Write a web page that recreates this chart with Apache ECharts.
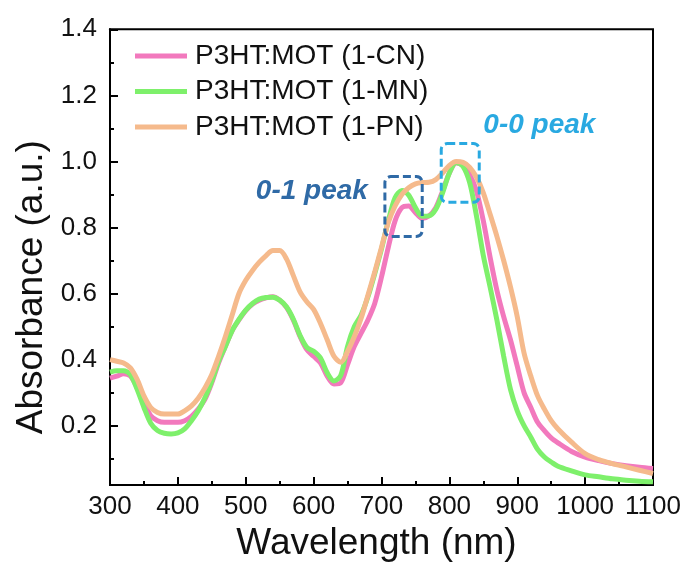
<!DOCTYPE html>
<html>
<head>
<meta charset="utf-8">
<script src="https://cdn.jsdelivr.net/npm/echarts@6/dist/echarts.min.js"></script>
<style>html,body{margin:0;padding:0;background:#fff;}#c{width:689px;height:567px;}</style>
</head>
<body>
<div id="c"></div>
<script>
// ---- data ----
var wavelengths = [300,310,320,330,340,350,360,370,380,390,400,410,420,430,440,450,460,470,480,490,500,510,520,530,540,550,560,570,580,590,600,610,620,630,640,650,660,670,680,690,700,710,720,730,740,750,760,770,780,790,800,810,820,830,840,850,860,870,880,890,900,910,920,930,940,950,960,980,1000,1020,1040,1060,1080,1100];
var absCN = [0.344,0.35,0.357,0.35,0.315,0.27,0.23,0.215,0.21,0.21,0.21,0.215,0.228,0.25,0.28,0.33,0.39,0.44,0.488,0.52,0.548,0.568,0.58,0.587,0.59,0.58,0.558,0.52,0.47,0.43,0.41,0.39,0.35,0.326,0.33,0.385,0.44,0.48,0.52,0.57,0.65,0.74,0.82,0.86,0.865,0.845,0.827,0.835,0.86,0.91,0.965,0.995,0.987,0.96,0.91,0.82,0.71,0.61,0.53,0.46,0.38,0.30,0.255,0.21,0.185,0.163,0.148,0.122,0.105,0.094,0.085,0.079,0.074,0.07];
var absMN = [0.362,0.366,0.366,0.355,0.31,0.255,0.207,0.185,0.177,0.175,0.178,0.19,0.215,0.245,0.285,0.335,0.395,0.44,0.488,0.522,0.55,0.57,0.583,0.588,0.589,0.58,0.56,0.523,0.473,0.437,0.425,0.405,0.36,0.335,0.352,0.44,0.50,0.535,0.59,0.66,0.735,0.82,0.89,0.912,0.898,0.86,0.834,0.835,0.855,0.905,0.965,0.997,0.985,0.935,0.834,0.715,0.62,0.52,0.41,0.31,0.245,0.2,0.165,0.128,0.105,0.09,0.077,0.063,0.051,0.045,0.039,0.035,0.032,0.03];
var absPN = [0.40,0.395,0.39,0.375,0.34,0.29,0.255,0.24,0.235,0.235,0.235,0.245,0.26,0.283,0.315,0.355,0.41,0.47,0.535,0.60,0.64,0.67,0.695,0.715,0.73,0.73,0.705,0.655,0.605,0.575,0.552,0.51,0.46,0.41,0.392,0.425,0.47,0.525,0.595,0.665,0.74,0.815,0.865,0.9,0.92,0.932,0.936,0.937,0.945,0.965,0.988,1.0,0.997,0.982,0.952,0.905,0.84,0.773,0.70,0.62,0.53,0.42,0.35,0.29,0.25,0.215,0.19,0.15,0.115,0.097,0.085,0.075,0.065,0.055];
var seriesNames = ['P3HT:MOT (1-CN)','P3HT:MOT (1-MN)','P3HT:MOT (1-PN)'];
var yTickValues = [0.2,0.4,0.6,0.8,1.0,1.2,1.4];
var yMinorValues = [0.1,0.3,0.5,0.7,0.9,1.1,1.3];
var peakBox01 = [705, 760, 0.773, 0.954]; // x0,x1,y0,y1 in data units
var peakBox00 = [788, 844, 0.876, 1.054];
var label01Pos = [680, 0.91];
var label00Pos = [850, 1.11];

function pairs(xs, ys){ return xs.map(function(x,i){ return [x, ys[i]]; }); }

var colors = ['#f279bd', '#7ef06b', '#f5ba8c'];
var FONT = '"Liberation Sans", Arial, sans-serif';

var chart = echarts.init(document.getElementById('c'), null, {renderer:'canvas'});
var option = {
  animation: false,
  backgroundColor: '#ffffff',
  grid: { left: 110, right: 36, top: 29.3, bottom: 80.3, show: true, borderColor: '#000', borderWidth: 2, containLabel: false },
  legend: {
    orient: 'vertical', left: 135, top: 42, padding: 0,
    icon: 'rect', itemWidth: 52, itemHeight: 5, itemGap: 7.5,
    data: seriesNames,
    textStyle: { fontFamily: FONT, fontSize: 28, color: '#111', lineHeight: 28, padding: [0,0,0,3] }
  },
  xAxis: {
    type: 'value', min: 300, max: 1100, interval: 100,
    name: 'Wavelength (nm)', nameLocation: 'middle', nameGap: 38,
    nameTextStyle: { fontFamily: FONT, fontSize: 37, color: '#111', padding: [0, 10, 0, 0] },
    axisLine: { show: true, lineStyle: { color: '#000', width: 2 } },
    axisTick: { show: true, inside: true, length: 8, lineStyle: { color: '#000', width: 2 } },
    minorTick: { show: true, splitNumber: 2, length: 4, lineStyle: { color: '#000', width: 2 } },
    axisLabel: { fontFamily: FONT, fontSize: 26, color: '#111', margin: 9, formatter: function(v){ return String(v); } },
    splitLine: { show: false }
  },
  yAxis: [{
    type: 'value', min: 0.02, max: 1.4,
    name: 'Absorbance (a.u.)', nameLocation: 'middle', nameGap: 47,
    nameTextStyle: { fontFamily: FONT, fontSize: 37, color: '#111', padding: [0, 60, 0, 0] },
    axisLine: { show: true, lineStyle: { color: '#000', width: 2 } },
    axisTick: { show: true, inside: true, length: 8, customValues: yTickValues, lineStyle: { color: '#000', width: 2 } },
    axisLabel: { fontFamily: FONT, fontSize: 26, color: '#111', margin: 13, customValues: yTickValues,
      formatter: function(v){ return v.toFixed(1); } },
    splitLine: { show: false }
  }, {
    type: 'value', min: 0.02, max: 1.4, position: 'left',
    axisLine: { show: false },
    axisTick: { show: true, inside: true, length: 4, customValues: yMinorValues, lineStyle: { color: '#000', width: 2 } },
    axisLabel: { show: false },
    splitLine: { show: false }
  }],
  series: [
    { name: seriesNames[0], type: 'line', data: pairs(wavelengths, absCN), symbol: 'none', smooth: 0.3, color: colors[0], lineStyle: { width: 5, color: colors[0] }, z: 2 },
    { name: seriesNames[1], type: 'line', data: pairs(wavelengths, absMN), symbol: 'none', smooth: 0.3, color: colors[1], lineStyle: { width: 5, color: colors[1] }, z: 3 },
    { name: seriesNames[2], type: 'line', data: pairs(wavelengths, absPN), symbol: 'none', smooth: 0.3, color: colors[2], lineStyle: { width: 5, color: colors[2] }, z: 4 }
  ]
};
chart.setOption(option);

function px(p){ return chart.convertToPixel({seriesIndex: 0}, p); }
function boxGraphic(b, color){
  var a = px([b[0], b[3]]), c = px([b[1], b[2]]);
  return { type: 'rect', z: 10, shape: { x: a[0], y: a[1], width: c[0]-a[0], height: c[1]-a[1], r: 6 },
    style: { fill: null, stroke: color, lineWidth: 3, lineDash: [8, 4] } };
}
var p01 = px(label01Pos), p00 = px(label00Pos);
chart.setOption({ graphic: [
  boxGraphic(peakBox01, '#2f6aa6'),
  boxGraphic(peakBox00, '#29a9e1'),
  { type: 'text', z: 10, x: p01[0], y: p01[1], style: { text: '0-1 peak', fill: '#2f6aa6', font: 'italic bold 28px ' + FONT, align: 'right', verticalAlign: 'middle' } },
  { type: 'text', z: 10, x: p00[0], y: p00[1], style: { text: '0-0 peak', fill: '#29a9e1', font: 'italic bold 28px ' + FONT, align: 'left', verticalAlign: 'middle' } }
]});
</script>
</body>
</html>
